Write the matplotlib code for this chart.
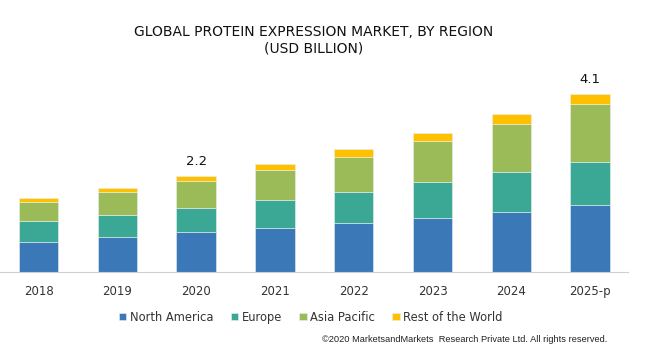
import numpy as np
import matplotlib.pyplot as plt

years = ['2018', '2019', '2020', '2021', '2022', '2023', '2024', '2025-p']
north_america = [0.69, 0.81, 0.91, 1.01, 1.12, 1.23, 1.38, 1.53]
europe = [0.49, 0.50, 0.56, 0.64, 0.72, 0.83, 0.91, 0.99]
asia_pacific = [0.43, 0.53, 0.61, 0.69, 0.80, 0.95, 1.11, 1.33]
rest_of_world = [0.09, 0.10, 0.13, 0.15, 0.18, 0.18, 0.22, 0.24]
labelled = {2: '2.2', 7: '4.1'}

series = [
    ('North America', north_america, '#3b78b7'),
    ('Europe', europe, '#3aa894'),
    ('Asia Pacific', asia_pacific, '#9bbb59'),
    ('Rest of the World', rest_of_world, '#ffc000'),
]


def main():
    fig = plt.figure(figsize=(6.5, 3.64), dpi=100)
    ax = fig.add_axes([0.0, 0.2527, 0.966, 0.5385])

    x = np.arange(len(years))
    bottom = np.zeros(len(years))
    for name, vals, color in series:
        ax.bar(x, vals, width=0.5, bottom=bottom, color=color, label=name,
               edgecolor='#e8f0f0', linewidth=0.4)
        bottom += np.array(vals)

    for i, txt in labelled.items():
        ax.annotate(txt, (x[i], bottom[i]), xytext=(0, 5.5), textcoords='offset points',
                    ha='center', va='bottom', fontsize=9.5, color='#111111')

    ax.set_xlim(-0.49, 7.48)
    ax.set_ylim(0, 4.5)
    ax.set_xticks(x)
    ax.set_xticklabels(years, fontsize=8.5, color='#333333')
    ax.tick_params(axis='x', length=0, pad=9)
    ax.set_yticks([])
    for s in ['top', 'right', 'left']:
        ax.spines[s].set_visible(False)
    ax.spines['bottom'].set_color('#d0d0d0')
    ax.spines['bottom'].set_linewidth(0.8)

    fig.text(0.483, 0.912, 'GLOBAL PROTEIN EXPRESSION MARKET, BY REGION',
             ha='center', va='center', fontsize=10, color='#111111')
    fig.text(0.483, 0.866, '(USD BILLION)',
             ha='center', va='center', fontsize=10, color='#111111')

    ax.legend(loc='center', bbox_to_anchor=(0.478, 0.129), bbox_transform=fig.transFigure,
              ncol=4, frameon=False, fontsize=8.3, handlelength=0.65, handleheight=0.65,
              handletextpad=0.3, columnspacing=1.5, labelcolor='#333333')

    fig.text(0.935, 0.066, '\u00a92020 MarketsandMarkets  Research Private Ltd. All rights reserved.',
             ha='right', va='center', fontsize=6.7, family='Liberation Sans', color='#222222')

    fig.savefig('out.png', dpi=100)


if __name__ == '__main__':
    main()
